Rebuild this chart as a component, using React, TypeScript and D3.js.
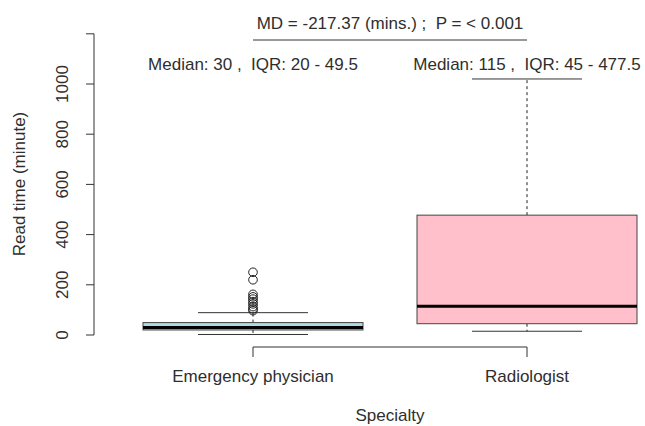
import React, { useEffect, useRef } from 'react'
import * as d3 from 'd3'

// data
const categories = ['Emergency physician', 'Radiologist']
const lowerWhisker = [2, 15]
const q1 = [20, 45]
const medians = [30, 115]
const q3 = [49.5, 477.5]
const upperWhisker = [89, 1020]
const fills = ['#add8e6', '#ffc0cb']
const epOutliers = [250, 220, 162, 152, 143, 133, 124, 113, 104, 97]
const yTicks = [0, 200, 400, 600, 800, 1000, 1200]
const yTickLabels = ['0', '200', '400', '600', '800', '1000', '']
const summaryLabels = ['Median: 30 ,  IQR: 20 - 49.5', 'Median: 115 ,  IQR: 45 - 477.5']
const testLabel = 'MD = -217.37 (mins.) ;  P = < 0.001'

export default function App() {
  const svgRef = useRef<SVGSVGElement>(null)

  useEffect(() => {
    if (!svgRef.current) return
    const svg = d3.select(svgRef.current)
    svg.selectAll('*').remove()
    const font = '"Liberation Sans", Arial, sans-serif'
    const ink = '#2e2e2e'
    const axisInk = '#333'

    const y = d3.scaleLinear().domain([0, 1200]).range([335, 33.8])
    const x = d3.scalePoint<string>().domain(categories).range([253, 527])
    const boxW = 220

    const addText = (s: string, tx: number, ty: number, rot = 0) =>
      svg.append('text')
        .attr('transform', `translate(${tx},${ty}) rotate(${rot})`)
        .attr('text-anchor', 'middle')
        .style('font-family', font).style('font-size', '17px')
        .style('white-space', 'pre')
        .attr('fill', ink).text(s)

    // y axis
    const ya = svg.append('g')
    ya.append('line').attr('x1', 94).attr('x2', 94)
      .attr('y1', y(0)).attr('y2', y(1200)).attr('stroke', axisInk)
    yTicks.forEach((t, i) => {
      ya.append('line').attr('x1', 86).attr('x2', 94)
        .attr('y1', y(t)).attr('y2', y(t)).attr('stroke', axisInk)
      if (yTickLabels[i]) addText(yTickLabels[i], 68, y(t), -90)
    })

    // x axis bracket
    const xa = svg.append('g')
    xa.append('line').attr('x1', x(categories[0]) as number).attr('x2', x(categories[1]) as number)
      .attr('y1', 347).attr('y2', 347).attr('stroke', axisInk)
    categories.forEach(c => {
      const cx = x(c) as number
      xa.append('line').attr('x1', cx).attr('x2', cx).attr('y1', 347).attr('y2', 357).attr('stroke', axisInk)
      addText(c, cx, 382)
    })

    // boxes
    categories.forEach((c, i) => {
      const cx = x(c) as number
      const g = svg.append('g')
      g.append('line').attr('x1', cx).attr('x2', cx)
        .attr('y1', y(q3[i])).attr('y2', y(upperWhisker[i]))
        .attr('stroke', '#222').attr('stroke-dasharray', '3,3')
      g.append('line').attr('x1', cx).attr('x2', cx)
        .attr('y1', y(q1[i])).attr('y2', y(lowerWhisker[i]))
        .attr('stroke', '#222').attr('stroke-dasharray', '3,3')
      ;[lowerWhisker[i], upperWhisker[i]].forEach(v => {
        g.append('line').attr('x1', cx - boxW / 4).attr('x2', cx + boxW / 4)
          .attr('y1', y(v)).attr('y2', y(v)).attr('stroke', axisInk)
      })
      g.append('rect').attr('x', cx - boxW / 2).attr('width', boxW)
        .attr('y', y(q3[i])).attr('height', y(q1[i]) - y(q3[i]))
        .attr('fill', fills[i]).attr('stroke', '#444')
      g.append('line').attr('x1', cx - boxW / 2).attr('x2', cx + boxW / 2)
        .attr('y1', y(medians[i])).attr('y2', y(medians[i]))
        .attr('stroke', '#000').attr('stroke-width', 3)
    })

    // outliers
    const ex = x(categories[0]) as number
    svg.append('g').selectAll('circle').data(epOutliers).join('circle')
      .attr('cx', ex).attr('cy', d => y(d)).attr('r', 4.3)
      .attr('fill', 'none').attr('stroke', '#222').attr('stroke-width', 1)

    // annotations
    summaryLabels.forEach((s, i) => addText(s, x(categories[i]) as number, 70))
    addText(testLabel, 390, 29)
    svg.append('line').attr('x1', x(categories[0]) as number).attr('x2', x(categories[1]) as number)
      .attr('y1', 40).attr('y2', 40).attr('stroke', axisInk)

    // axis titles
    addText('Read time (minute)', 25, 184, -90)
    addText('Specialty', 390, 421)
  }, [])

  return (
    <svg ref={svgRef} width={645} height={426}
      style={{ position: 'absolute', left: 0, top: 0, background: '#fff' }} />
  )
}
